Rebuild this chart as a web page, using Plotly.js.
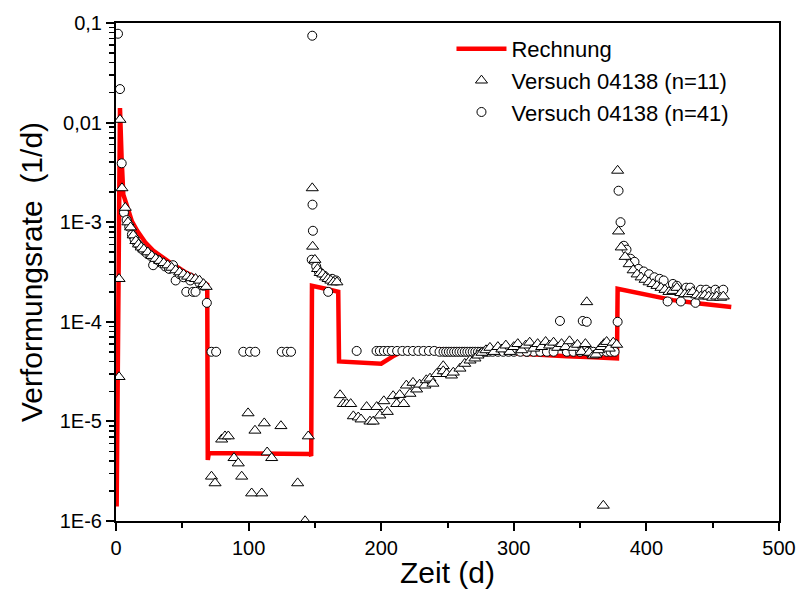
<!DOCTYPE html>
<html>
<head>
<meta charset="utf-8">
<script src="https://cdn.plot.ly/plotly-3.0.1.min.js"></script>
<style>html,body{margin:0;padding:0;background:#fff;}#chart{width:805px;height:591px;}</style>
</head>
<body>
<div id="chart"></div>
<script>
// Rechnung (calculation)
var calc_t = [0.5, 1.2, 2.0, 3.0, 4.2, 5.5, 8, 12, 16, 22, 28, 35, 41, 47, 53, 60, 65, 68.8,
  69.2, 70, 85, 100, 115, 130, 146.5, 147.2,
  147.8, 158, 167.6,
  168.2, 180, 190, 200, 210, 219, 240, 260, 280, 300, 320, 340, 360, 377.8,
  378.3, 400, 420, 440, 464];
var calc_v = [1.4e-6, 2e-5, 2.5e-3, 1.4e-2, 4.5e-3, 1.9e-3, 1.5e-3, 1.02e-3, 8.2e-4, 6.3e-4, 5.2e-4, 4.4e-4, 3.9e-4, 3.5e-4, 3.1e-4, 2.8e-4, 2.55e-4, 2.35e-4,
  4.1e-6, 4.8e-6, 4.8e-6, 4.8e-6, 4.8e-6, 4.8e-6, 4.7e-6, 4.5e-6,
  2.3e-4, 2.15e-4, 2.0e-4,
  4.0e-5, 3.9e-5, 3.85e-5, 3.8e-5, 4.6e-5, 5.3e-5, 5.3e-5, 5.3e-5, 5.0e-5, 4.8e-5, 4.6e-5, 4.5e-5, 4.4e-5, 4.3e-5,
  2.15e-4, 1.85e-4, 1.65e-4, 1.53e-4, 1.41e-4];

// Versuch 04138 (n=11) - triangles
var tri_t = [2.3, 2.3, 3, 4.5, 7, 9, 11, 13, 15, 17, 19, 21, 24, 27, 30, 33, 36, 39, 42, 45, 48, 51, 54, 57, 60, 63, 66, 68,
  72, 74.7, 79.7, 82.2, 84.7, 89, 92.2, 94.8, 99.6, 102.3, 104.8, 109.9, 111.8, 114, 117.4, 124.4, 137, 142.6, 145,
  148, 148.3, 150, 152, 154, 156, 158, 160, 162, 164, 166.6,
  169, 171.4, 174, 177, 179, 182.7, 184.8, 189, 191.5, 194, 196.6, 199, 202, 204.6, 209, 211.7, 214, 217, 219, 221.7, 224, 226.7, 229, 233, 234, 236.8, 239, 241.8, 246.8, 246.8, 249.4, 253, 254.4, 259.4, 263, 267, 270.7, 273,
  276, 279, 282, 285, 288, 291, 294, 297, 300, 303, 306, 309, 312, 315, 318, 321, 324, 327, 330, 333, 336, 339, 342, 345, 348, 351, 354, 357, 360, 362, 364, 366, 368, 370, 372, 375, 377.6,
  355, 367.5,
  378.3, 379, 381, 384, 387, 390, 393, 396, 399, 402, 405, 408, 411, 414, 417, 420, 423, 426, 429, 432, 435, 438, 441, 444, 447, 450, 453, 456, 458];
var tri_v = [2.8e-5, 2.7e-4, 1.07e-2, 2.2e-3, 1.4e-3, 1.0e-3, 8.9e-4, 7.4e-4, 6.5e-4, 6.0e-4, 5.6e-4, 5.35e-4, 5.0e-4, 4.6e-4, 4.3e-4, 4.1e-4, 3.9e-4, 3.7e-4, 3.5e-4, 3.3e-4, 3.15e-4, 3.0e-4, 2.85e-4, 2.75e-4, 2.7e-4, 2.6e-4, 2.4e-4, 2.25e-4,
  2.8e-6, 2.4e-6, 6.6e-6, 7.1e-6, 7.1e-6, 4.3e-6, 3.8e-6, 2.8e-6, 1.21e-5, 1.9e-6, 8.1e-6, 1.9e-6, 9.6e-6, 4.9e-6, 4.3e-6, 9.0e-6, 2.4e-6, 1.0e-6, 7.1e-6,
  2.2e-3, 5.7e-4, 4.2e-4, 3.4e-4, 3.1e-4, 3.0e-4, 2.8e-4, 2.7e-4, 2.6e-4, 2.5e-4, 2.5e-4,
  1.84e-5, 1.5e-5, 1.5e-5, 1.5e-5, 1.13e-5, 1.1e-5, 1.05e-5, 1.4e-5, 1.0e-5, 1.0e-5, 1.4e-5, 1.15e-5, 1.6e-5, 1.25e-5, 1.8e-5, 1.5e-5, 1.85e-5, 1.5e-5, 2.3e-5, 1.9e-5, 2.45e-5, 2.1e-5, 2.35e-5, 2.3e-5, 2.6e-5, 2.7e-5, 2.4e-5, 3.0e-5, 3.6e-5, 3.2e-5, 3.0e-5, 2.9e-5, 3.1e-5, 3.4e-5, 3.8e-5, 4.1e-5, 4.3e-5, 4.6e-5,
  4.9e-5, 5.2e-5, 5.5e-5, 5.0e-5, 5.6e-5, 5.3e-5, 5.8e-5, 5.0e-5, 5.6e-5, 6.0e-5, 5.2e-5, 5.8e-5, 6.2e-5, 5.4e-5, 6.0e-5, 5.6e-5, 6.3e-5, 5.8e-5, 6.2e-5, 5.5e-5, 6.0e-5, 5.6e-5, 6.4e-5, 5.5e-5, 5.9e-5, 5.0e-5, 6.0e-5, 4.9e-5, 4.6e-5, 4.7e-5, 5.2e-5, 5.6e-5, 6.0e-5, 6.3e-5, 5.4e-5, 6.2e-5, 5.9e-5,
  1.58e-4, 1.43e-6,
  3.3e-3, 8.1e-4, 5.6e-4, 4.5e-4, 3.8e-4, 3.3e-4, 3.0e-4, 2.8e-4, 2.65e-4, 2.5e-4, 2.4e-4, 2.3e-4, 2.2e-4, 2.1e-4, 2.0e-4, 2.05e-4, 2.2e-4, 1.95e-4, 1.9e-4, 1.9e-4, 2.0e-4, 1.85e-4, 1.8e-4, 1.85e-4, 1.8e-4, 1.75e-4, 1.8e-4, 1.75e-4, 1.8e-4];

// Versuch 04138 (n=41) - circles
var circ_t = [1.5, 3, 4.3, 6, 8, 10, 12, 14, 16, 18, 20, 23, 26, 28, 31, 34, 37, 40, 43, 45, 48, 51, 53, 56, 58, 60, 63, 66, 68.5,
  72, 75.5, 96, 101, 105, 125, 129, 132,
  148, 148.2, 148.5, 147.6, 151, 153, 157, 160, 163, 166,
  181.5, 196.5, 199, 202, 205, 208, 212, 216, 220, 224, 228, 232, 236, 240, 244, 247, 249, 251, 253, 255, 257, 259, 261, 263, 265, 267, 269, 271, 273, 275, 277, 279, 281, 284, 288, 292, 296, 300, 305, 310, 315, 320, 325, 330, 340, 345, 350, 356, 360, 365, 370, 373, 376,
  309.7, 334.8, 352, 355,
  378.3, 379, 380.5, 383, 385, 388, 391, 394, 398, 402, 406, 410, 413, 416, 420, 423, 426, 430, 433, 437, 441, 445, 448, 452, 455, 458];
var circ_v = [0.078, 0.0217, 3.9e-3, 1.25e-3, 1.05e-3, 9.0e-4, 7.5e-4, 6.7e-4, 6.1e-4, 5.7e-4, 5.3e-4, 4.9e-4, 4.6e-4, 3.7e-4, 4.2e-4, 3.9e-4, 3.6e-4, 3.4e-4, 3.7e-4, 2.6e-4, 3.0e-4, 2.8e-4, 2.0e-4, 2.6e-4, 2.0e-4, 2.0e-4, 2.45e-4, 2.3e-4, 1.55e-4,
  5e-5, 5e-5, 5e-5, 5e-5, 5e-5, 5e-5, 5e-5, 5e-5,
  0.0745, 1.5e-3, 8.2e-4, 4.2e-4, 3.6e-4, 3.2e-4, 2.9e-4, 2.0e-4, 2.7e-4, 2.6e-4,
  5.1e-5, 5.1e-5, 5.1e-5, 5.1e-5, 5.1e-5, 5.1e-5, 5.1e-5, 5.1e-5, 5.1e-5, 5.1e-5, 5.1e-5, 5.1e-5, 5.1e-5, 5.1e-5, 5.0e-5, 5.0e-5, 5.0e-5, 5.0e-5, 5.0e-5, 5.0e-5, 5.0e-5, 5.0e-5, 5.0e-5, 5.0e-5, 5.0e-5, 5.0e-5, 5.0e-5, 5.0e-5, 5.0e-5, 5.0e-5, 5.0e-5, 5.0e-5, 5.0e-5, 5.0e-5, 5.0e-5, 5.0e-5, 5.0e-5, 5.0e-5, 5.0e-5, 5.0e-5, 5.0e-5, 5.0e-5, 5.0e-5, 5.0e-5, 5.0e-5, 5.0e-5, 5.0e-5, 5.0e-5, 5.0e-5, 5.0e-5, 5.0e-5, 5.0e-5, 5.0e-5, 5.0e-5,
  1.02e-4, 1.02e-4, 1.0e-4, 1.0e-4,
  2.07e-3, 1.0e-3, 5.8e-4, 5.3e-4, 4.3e-4, 4.0e-4, 3.4e-4, 3.2e-4, 3.0e-4, 2.8e-4, 2.7e-4, 2.6e-4, 1.6e-4, 2.4e-4, 2.3e-4, 1.6e-4, 2.2e-4, 2.2e-4, 1.55e-4, 2.1e-4, 2.1e-4, 2.0e-4, 2.1e-4, 2.0e-4, 2.1e-4, 2.1e-4];

var xTickVals = [0, 100, 200, 300, 400, 500];
var yTickVals = [1e-6, 1e-5, 1e-4, 1e-3, 1e-2, 1e-1];
var yTickText = ['1E-6', '1E-5', '1E-4', '1E-3', '0,01', '0,1'];

var yMinor = [];
for (var d = -6; d < -1; d++) {
  for (var m = 2; m <= 9; m++) yMinor.push(m * Math.pow(10, d));
}

var FONT = 'Liberation Sans, Arial, sans-serif';

var traces = [
  {x: calc_t, y: calc_v, mode: 'lines', name: 'Rechnung',
   line: {color: '#ff0000', width: 4.5}, legendrank: 1},
  {x: circ_t, y: circ_v, mode: 'markers', name: 'Versuch 04138 (n=41)',
   marker: {symbol: 'circle', size: 9, color: '#ffffff', line: {color: '#000000', width: 1}}, legendrank: 3},
  {x: tri_t, y: tri_v, mode: 'markers', name: 'Versuch 04138 (n=11)',
   marker: {symbol: 'triangle-up', size: 10.5, color: '#ffffff', line: {color: '#000000', width: 1}}, legendrank: 2}
];

var layout = {
  width: 805, height: 591,
  margin: {l: 116, r: 26, t: 23, b: 70},
  paper_bgcolor: '#ffffff', plot_bgcolor: '#ffffff',
  font: {family: FONT, color: '#000000', size: 20},
  showlegend: true,
  legend: {x: 0.506, y: 0.99, xanchor: 'left', yanchor: 'top', bgcolor: 'rgba(0,0,0,0)',
           font: {family: FONT, size: 22}, itemwidth: 50, tracegroupgap: 0},
  xaxis: {
    range: [0, 500], tickmode: 'array', tickvals: xTickVals,
    ticks: 'outside', ticklen: 8, tickwidth: 2, tickcolor: '#000',
    showline: true, linecolor: '#000', linewidth: 2, mirror: true,
    showgrid: false, zeroline: false,
    tickfont: {family: FONT, size: 20},
    minor: {tickmode: 'array', tickvals: [50, 150, 250, 350, 450], ticks: 'outside', ticklen: 5, tickwidth: 2, tickcolor: '#000', showgrid: false},
    title: {text: 'Zeit (d)', font: {family: FONT, size: 30}, standoff: 4}
  },
  yaxis: {
    type: 'log', range: [-6, -1], tickmode: 'array', tickvals: yTickVals, ticktext: yTickText,
    ticks: 'outside', ticklen: 8, tickwidth: 2, tickcolor: '#000',
    showline: true, linecolor: '#000', linewidth: 2, mirror: true,
    showgrid: false, zeroline: false,
    tickfont: {family: FONT, size: 20},
    minor: {tickmode: 'array', tickvals: yMinor, ticks: 'outside', ticklen: 5, tickwidth: 1.5, tickcolor: '#000', showgrid: false},
    title: {text: 'Verformungsrate  (1/d)', font: {family: FONT, size: 30}, standoff: 8}
  }
};

Plotly.newPlot('chart', traces, layout, {displayModeBar: false, staticPlot: true});
</script>
</body>
</html>
